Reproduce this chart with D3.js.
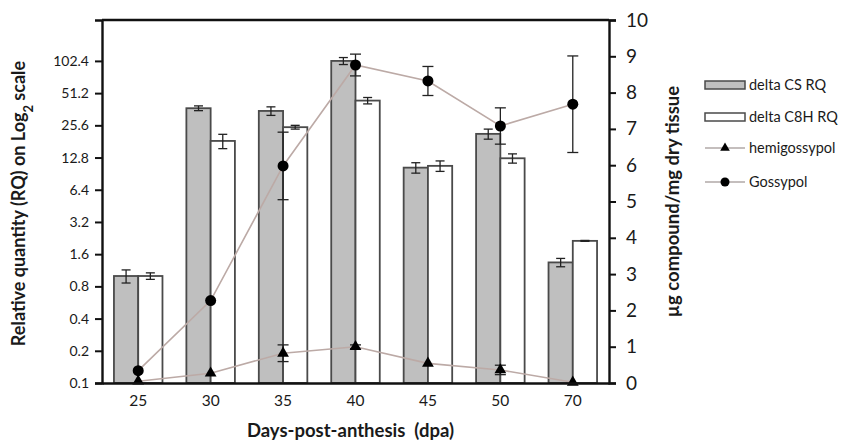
<!DOCTYPE html>
<html>
<head>
<meta charset="utf-8">
<script src="https://cdn.jsdelivr.net/npm/d3@7"></script>
<style>
  body { margin: 0; background: #fff; }
  text { font-family: Lato, "Open Sans", sans-serif; fill: #1a1a1a; }
</style>
</head>
<body>
<div id="chart"></div>
<script>
// data
var days = ["25", "30", "35", "40", "45", "50", "70"];
var csRQ = [1.0, 37.0, 34.9, 102.4, 10.3, 21.3, 1.34];
var csErr = [0.14, 1.9, 3.2, 7.7, 1.15, 2.3, 0.12];
var c8hRQ = [1.0, 18.3, 24.6, 43.6, 10.7, 12.6, 2.13];
var c8hErr = [0.07, 2.8, 1.0, 3.0, 1.2, 1.25, 0.02];
var hemigossypol = [0.05, 0.27, 0.82, 1.0, 0.54, 0.36, 0.02];
var hemiErr = [0, 0, 0.23, 0.05, 0, 0.13, 0];
var gossypol = [0.34, 2.27, 5.98, 8.76, 8.32, 7.08, 7.68];
var gossErr = [0, 0, 0.93, 0.3, 0.4, 0.5, 1.33];
var leftTicks = [0.1, 0.2, 0.4, 0.8, 1.6, 3.2, 6.4, 12.8, 25.6, 51.2, 102.4];
var rightTicks = [0, 1, 2, 3, 4, 5, 6, 7, 8, 9, 10];

var W = 843, H = 442;
var margin = {top: 20, right: 234, bottom: 59, left: 102};
var x0 = margin.left, x1 = W - margin.right, yTop = margin.top, yBot = H - margin.bottom;

var svg = d3.select("#chart").append("svg")
    .attr("width", W).attr("height", H);

var xScale = d3.scaleBand().domain(days).range([x0, x1])
    .paddingInner(0.33).paddingOuter(0.165);
var xSub = d3.scaleBand().domain(["cs", "c8h"]).range([0, xScale.bandwidth()]);

// log2 axis: 102.4 sits ~10 doublings above 0.1, frame top a bit higher
var yLeft = d3.scaleLog().base(2).domain([0.1, 247]).range([yBot, yTop]);
var yRight = d3.scaleLinear().domain([0, 10]).range([yBot, yTop]);

var rows = days.map(function(d, i) {
    return {day: d, cs: csRQ[i], csE: csErr[i], c8h: c8hRQ[i], c8hE: c8hErr[i],
        hemi: hemigossypol[i], hemiE: hemiErr[i], goss: gossypol[i], gossE: gossErr[i]};
});

// bars
var groups = svg.append("g").selectAll("g").data(rows).enter().append("g")
    .attr("transform", function(d) { return "translate(" + xScale(d.day) + ",0)"; });

groups.append("rect")
    .attr("x", xSub("cs")).attr("width", xSub.bandwidth())
    .attr("y", function(d) { return yLeft(d.cs); })
    .attr("height", function(d) { return yBot - yLeft(d.cs); })
    .attr("fill", "#bfbfbf").attr("stroke", "#4a4a4a").attr("stroke-width", 1.8);

groups.append("rect")
    .attr("x", xSub("c8h")).attr("width", xSub.bandwidth())
    .attr("y", function(d) { return yLeft(d.c8h); })
    .attr("height", function(d) { return yBot - yLeft(d.c8h); })
    .attr("fill", "#fff").attr("stroke", "#4a4a4a").attr("stroke-width", 1.8);

function errBar(g, cx, lo, hi, cap) {
    g.append("line").attr("x1", cx).attr("x2", cx).attr("y1", lo).attr("y2", hi)
        .attr("stroke", "#222").attr("stroke-width", 1.3);
    g.append("line").attr("x1", cx - cap).attr("x2", cx + cap).attr("y1", lo).attr("y2", lo)
        .attr("stroke", "#222").attr("stroke-width", 1.3);
    g.append("line").attr("x1", cx - cap).attr("x2", cx + cap).attr("y1", hi).attr("y2", hi)
        .attr("stroke", "#222").attr("stroke-width", 1.3);
}

var errG = svg.append("g");
rows.forEach(function(d) {
    var bx = xScale(d.day);
    errBar(errG, bx + xSub("cs") + xSub.bandwidth() / 2, yLeft(d.cs - d.csE), yLeft(d.cs + d.csE), 4.5);
    errBar(errG, bx + xSub("c8h") + xSub.bandwidth() / 2, yLeft(d.c8h - d.c8hE), yLeft(d.c8h + d.c8hE), 4.5);
});

// compound lines on right axis
var cx = function(d) { return xScale(d.day) + xScale.bandwidth() / 2; };

var line = d3.line().x(cx);
svg.append("path").datum(rows)
    .attr("d", line.y(function(d) { return yRight(d.hemi); }))
    .attr("fill", "none").attr("stroke", "#bcaaa6").attr("stroke-width", 1.6);
svg.append("path").datum(rows)
    .attr("d", line.y(function(d) { return yRight(d.goss); }))
    .attr("fill", "none").attr("stroke", "#bcaaa6").attr("stroke-width", 1.6);

rows.forEach(function(d) {
    if (d.gossE > 0) errBar(errG, cx(d), yRight(d.goss - d.gossE), yRight(d.goss + d.gossE), 5.5);
    if (d.hemiE > 0) errBar(errG, cx(d), yRight(d.hemi - d.hemiE), yRight(d.hemi + d.hemiE), 5.5);
});

var tri = d3.symbol().type(d3.symbolTriangle).size(60);
svg.append("g").selectAll("path").data(rows).enter().append("path")
    .attr("d", tri)
    .attr("transform", function(d) { return "translate(" + cx(d) + "," + yRight(d.hemi) + ")"; })
    .attr("fill", "#000");

svg.append("g").selectAll("circle").data(rows).enter().append("circle")
    .attr("cx", cx).attr("cy", function(d) { return yRight(d.goss); })
    .attr("r", 5.5).attr("fill", "#000");

// axes
var leftAxis = svg.append("g")
    .attr("transform", "translate(" + x0 + ",0)")
    .call(d3.axisLeft(yLeft).tickValues(leftTicks).tickSize(7).tickPadding(6)
        .tickFormat(function(d) { return String(d); }));
leftAxis.selectAll("text").style("font-size", "14px");

var rightAxis = svg.append("g")
    .attr("transform", "translate(" + x1 + ",0)")
    .call(d3.axisRight(yRight).tickValues(rightTicks).tickSize(7).tickPadding(10));
rightAxis.selectAll("text").style("font-size", "19px");

var bottomAxis = svg.append("g")
    .attr("transform", "translate(0," + yBot + ")")
    .call(d3.axisBottom(xScale).tickSize(0).tickPadding(12));
bottomAxis.selectAll("text").style("font-size", "15.5px");

svg.selectAll(".domain").attr("stroke", "#111").attr("stroke-width", 2.4);
svg.selectAll(".tick line").attr("stroke", "#111").attr("stroke-width", 2);
svg.selectAll(".tick text").attr("fill", "#1a1a1a");

// frame top
svg.append("line").attr("x1", x0).attr("x2", x1).attr("y1", yTop).attr("y2", yTop)
    .attr("stroke", "#111").attr("stroke-width", 2.4);

// titles
var lt = svg.append("text")
    .attr("transform", "translate(25," + ((yTop + yBot) / 2 + 2) + ") rotate(-90)")
    .attr("text-anchor", "middle")
    .style("font-size", "18px").style("font-weight", "bold");
lt.append("tspan").text("Relative quantity (RQ) on Log");
lt.append("tspan").attr("baseline-shift", "sub").style("font-size", "13px").text("2");
lt.append("tspan").text(" scale");

svg.append("text")
    .attr("transform", "translate(679," + ((yTop + yBot) / 2) + ") rotate(-90)")
    .attr("text-anchor", "middle")
    .style("font-size", "18.5px").style("font-weight", "bold")
    .text("\u00b5g compound/mg dry tissue");

svg.append("text")
    .attr("x", (x0 + x1) / 2 - 5).attr("y", 437)
    .attr("text-anchor", "middle")
    .style("font-size", "18.5px").style("font-weight", "bold")
    .style("white-space", "pre")
    .text("Days-post-anthesis  (dpa)");

// legend
var lg = svg.append("g").attr("transform", "translate(705,0)");
var legendNames = ["delta CS RQ", "delta C8H RQ", "hemigossypol", "Gossypol"];
var legendY = [85, 117, 148, 182];

lg.append("rect").attr("x", 0).attr("y", legendY[0] - 4).attr("width", 40).attr("height", 8)
    .attr("fill", "#bfbfbf").attr("stroke", "#4a4a4a").attr("stroke-width", 1.5);
lg.append("rect").attr("x", 0).attr("y", legendY[1] - 4).attr("width", 40).attr("height", 8)
    .attr("fill", "#fff").attr("stroke", "#4a4a4a").attr("stroke-width", 1.5);
[2, 3].forEach(function(i) {
    lg.append("line").attr("x1", 0).attr("x2", 40).attr("y1", legendY[i]).attr("y2", legendY[i])
        .attr("stroke", "#8a7f7d").attr("stroke-width", 1.2);
});
lg.append("path").attr("d", d3.symbol().type(d3.symbolTriangle).size(40))
    .attr("transform", "translate(20," + legendY[2] + ")").attr("fill", "#000");
lg.append("circle").attr("cx", 20).attr("cy", legendY[3]).attr("r", 4.5).attr("fill", "#000");

lg.selectAll("text.lab").data(legendNames).enter().append("text")
    .attr("class", "lab")
    .attr("x", 44).attr("y", function(d, i) { return legendY[i] + 5; })
    .style("font-size", "14.5px")
    .text(function(d) { return d; });
</script>
</body>
</html>
